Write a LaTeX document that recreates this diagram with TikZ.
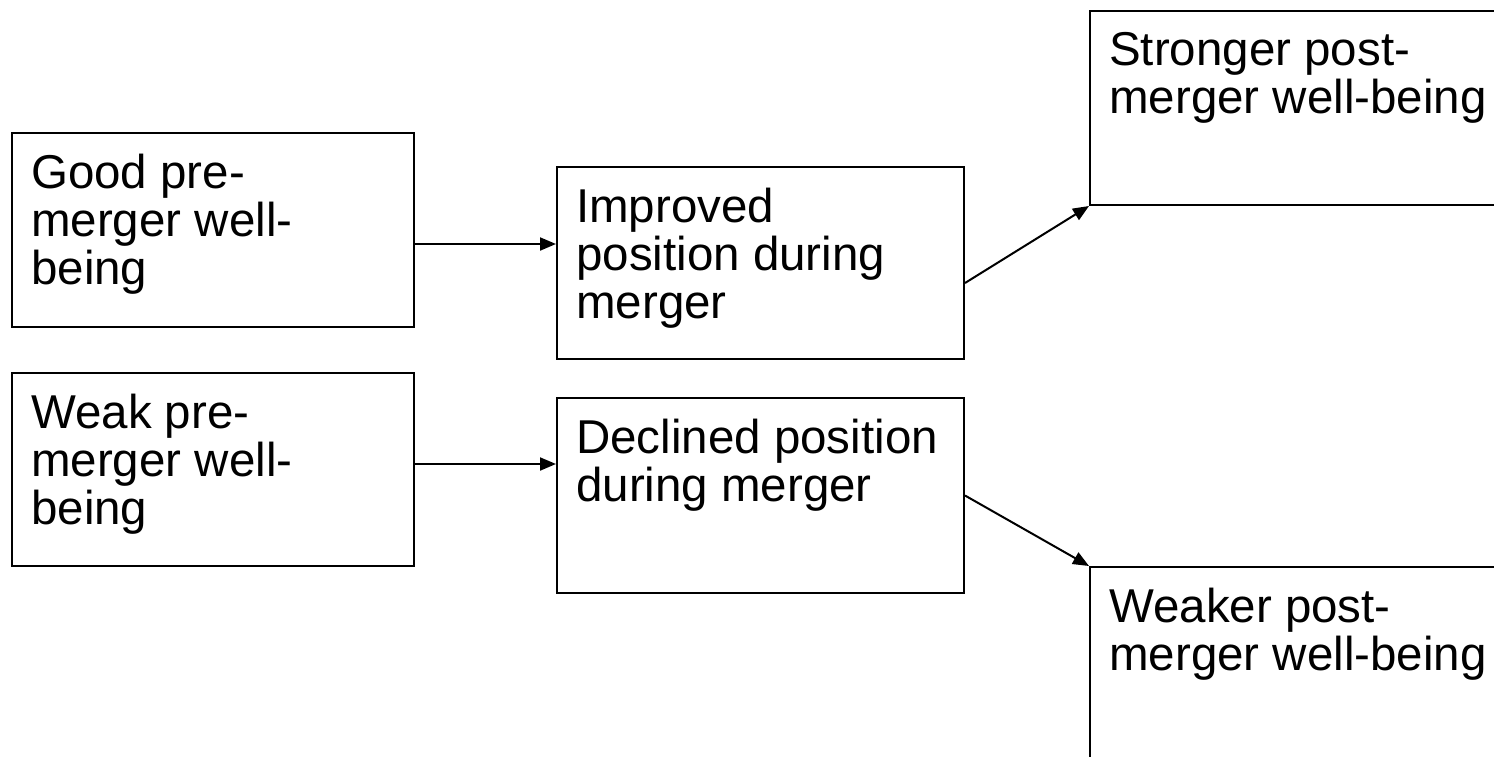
\documentclass[tikz,border=0pt]{standalone}
\usepackage{fontspec}
\setmainfont{Liberation Sans}
\usetikzlibrary{arrows.meta}
\tikzset{
  flowbox/.style={draw, line width=2pt, anchor=north west, inner sep=0pt},
  flowtext/.style={anchor=north west, inner sep=0pt, align=left,
    font=\fontsize{47.5}{48}\selectfont},
  flowarrow/.style={line width=2pt, -{Triangle[length=16pt,width=13pt]}}
}
\newcommand{\boxtext}[2]{\node[flowtext] (#1text) at ([xshift=20pt,yshift=-22pt]#1.north west) {#2};}

\begin{document}
\begin{tikzpicture}[x=1pt,y=-1pt]
        \useasboundingbox (0,0) rectangle (1494,756);
        \clip (0,0) rectangle (1494,756);
        % pre-merger
        \node[flowbox, minimum width=402pt, minimum height=194pt] (good) at (11,132) {};
        \node[flowbox, minimum width=402pt, minimum height=193pt] (weak) at (11,372) {};
        % during merger
        \node[flowbox, minimum width=407pt, minimum height=192pt] (improved) at (556,166) {};
        \node[flowbox, minimum width=407pt, minimum height=195pt] (declined) at (556,397) {};
        % post-merger, running off the page
        \node[flowbox, minimum width=500pt, minimum height=194pt] (stronger) at (1089,10) {};
        \node[flowbox, minimum width=500pt, minimum height=300pt] (weaker) at (1089,566) {};
        \boxtext{good}{Good pre-\\merger well-\\being}
        \boxtext{weak}{Weak pre-\\merger well-\\being}
        \boxtext{improved}{Improved\\position during\\merger}
        \boxtext{declined}{Declined position\\during merger}
        \boxtext{stronger}{Stronger post-\\merger well-being}
        \boxtext{weaker}{Weaker post-\\merger well-being}
        \draw[flowarrow] ([yshift=-14pt]good.east) -- ([yshift=-14pt]good.east -| improved.west);
        \draw[flowarrow] ([yshift=5.5pt]weak.east) -- ([yshift=5.5pt]weak.east -| declined.west);
        \draw[flowarrow] ([yshift=-20pt]improved.east) -- (stronger.south west);
        \draw[flowarrow] (declined.east) -- (weaker.north west);
\end{tikzpicture}
\end{document}
